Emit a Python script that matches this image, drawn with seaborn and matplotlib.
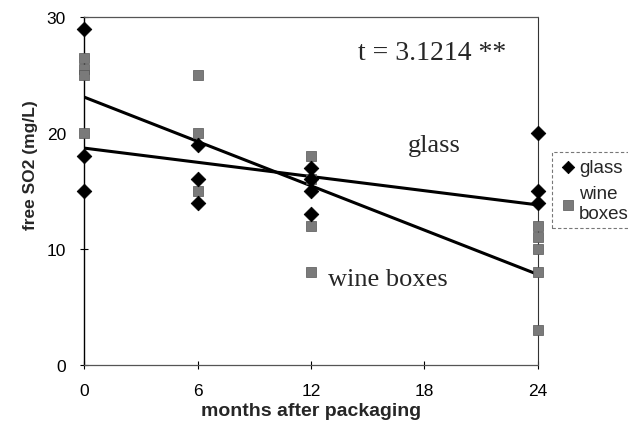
import numpy as np
import matplotlib
matplotlib.use("Agg")
import matplotlib.pyplot as plt
import pandas as pd
import seaborn as sns

# datos
meses_vidrio = [0, 0, 0, 6, 6, 6, 12, 12, 12, 12, 24, 24, 24]
so2_vidrio = [29, 18, 15, 19, 16, 14, 17, 16, 15, 13, 20, 15, 14]

meses_caja = [0, 0, 0, 0, 6, 6, 6, 12, 12, 12, 12, 24, 24, 24, 24, 24]
so2_caja = [26.5, 25.5, 25, 20, 25, 20, 15, 18, 16, 12, 8, 12, 11, 10, 8, 3]

# rectas de tendencia (extremos)
meses_tendencia = [0, 24]
tendencia_vidrio = [18.7, 13.8]
tendencia_caja = [23.1, 7.8]

sns.set_theme(style="white")
plt.rcParams["font.family"] = ["Liberation Sans", "DejaVu Sans"]

fig = plt.figure(figsize=(6.28, 4.27), dpi=100)
ax = fig.add_axes([84 / 628, 61 / 427, 454 / 628, 348 / 427])

df_vidrio = pd.DataFrame({"mes": meses_vidrio, "so2": so2_vidrio})
df_caja = pd.DataFrame({"mes": meses_caja, "so2": so2_caja})

sns.lineplot(x=meses_tendencia, y=tendencia_vidrio, color="black", lw=2.2, ax=ax, zorder=3)
sns.lineplot(x=meses_tendencia, y=tendencia_caja, color="black", lw=2.2, ax=ax, zorder=3)

sns.scatterplot(data=df_caja, x="mes", y="so2", marker="s", s=60, color="#7a7a7a",
                edgecolor="#555555", linewidth=0.5, ax=ax, zorder=4, label="wine\nboxes", clip_on=False)
sns.scatterplot(data=df_vidrio, x="mes", y="so2", marker="D", s=55, color="black",
                edgecolor="black", ax=ax, zorder=5, label="glass", clip_on=False)

ax.set_xlim(0, 24)
ax.set_ylim(0, 30)
ax.set_xticks([0, 6, 12, 18, 24])
ax.set_yticks([0, 10, 20, 30])
ax.tick_params(axis="both", labelsize=12.5, direction="inout", length=6, width=0.8,
               colors="black", bottom=True, left=True)
ax.tick_params(axis="x", pad=10)
ax.tick_params(axis="y", pad=10)

for lado in ["top", "bottom"]:
    ax.spines[lado].set_linestyle((0, (1, 1)))
    ax.spines[lado].set_color("#555555")
    ax.spines[lado].set_linewidth(0.9)
ax.spines["left"].set_color("black")
ax.spines["left"].set_linewidth(1.0)
ax.spines["right"].set_color("#333333")
ax.spines["right"].set_linewidth(0.8)

ax.set_xlabel("months after packaging", fontsize=14, fontweight="bold")
ax.xaxis.set_label_coords(0.5, -0.106)
ax.set_ylabel("free SO2 (mg/L)", fontsize=12.5, fontweight="bold")
ax.yaxis.set_label_coords(-0.102, 0.578)

serif = ["Liberation Serif", "DejaVu Serif"]
ax.text(14.5, 26.9, "t = 3.1214 **", fontsize=20, family=serif, ha="left", va="center")
ax.text(17.1, 19.0, "glass", fontsize=19, family=serif, ha="left", va="center")
ax.text(12.9, 7.4, "wine boxes", fontsize=19, family=serif, ha="left", va="center")

ax.get_legend().remove()
handles, labels = ax.get_legend_handles_labels()
orden = [labels.index("glass"), labels.index("wine\nboxes")]
leg = fig.legend([handles[i] for i in orden], [labels[i] for i in orden],
                 loc="upper left", bbox_to_anchor=(552 / 628, 1 - 153 / 427),
                 fontsize=13.5, frameon=True, fancybox=False, handletextpad=0.1,
                 handlelength=1.0, borderpad=0.35, labelspacing=0.5, borderaxespad=0,
                 markerscale=0.85)
leg.get_frame().set_edgecolor("#555555")
leg.get_frame().set_linestyle((0, (3, 2)))
leg.get_frame().set_linewidth(0.8)

fig.savefig("out.png", dpi=100)
